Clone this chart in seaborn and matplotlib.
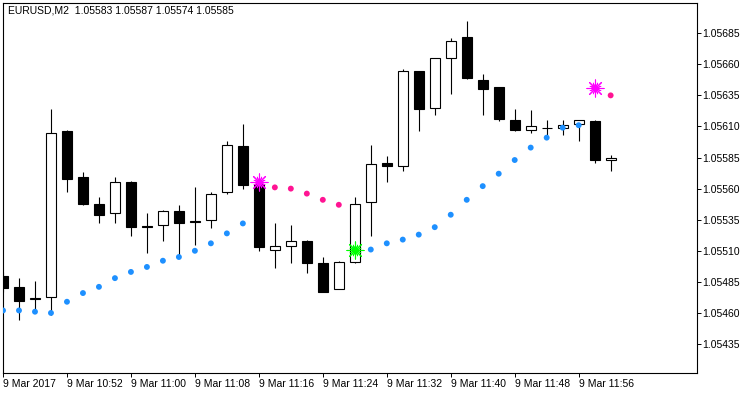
import matplotlib
matplotlib.use("Agg")
import pandas as pd
import matplotlib.pyplot as plt
import seaborn as sns

# EURUSD M2 candles, 9 Mar 2017 10:44 - 12:00
opens = [1.05490, 1.05481, 1.05471, 1.05473, 1.05606, 1.05569, 1.05548, 1.05540,
         1.05565, 1.05530, 1.05531, 1.05542, 1.05534, 1.05535, 1.05557, 1.05594,
         1.05564, 1.05511, 1.05514, 1.05518, 1.05500, 1.05479, 1.05501, 1.05549,
         1.05581, 1.05578, 1.05655, 1.05625, 1.05665, 1.05682, 1.05647, 1.05642,
         1.05615, 1.05607, 1.05609, 1.05609, 1.05612, 1.05614, 1.05583]
highs = [1.05493, 1.05488, 1.05486, 1.05624, 1.05607, 1.05573, 1.05553, 1.05569,
         1.05566, 1.05540, 1.05543, 1.05547, 1.05561, 1.05557, 1.05598, 1.05612,
         1.05566, 1.05532, 1.05531, 1.05519, 1.05505, 1.05502, 1.05553, 1.05595,
         1.05586, 1.05656, 1.05655, 1.05665, 1.05681, 1.05695, 1.05652, 1.05642,
         1.05624, 1.05623, 1.05615, 1.05615, 1.05615, 1.05615, 1.05587]
lows = [1.05477, 1.05454, 1.05461, 1.05458, 1.05557, 1.05547, 1.05532, 1.05532,
        1.05522, 1.05508, 1.05518, 1.05505, 1.05515, 1.05528, 1.05556, 1.05560,
        1.05510, 1.05496, 1.05500, 1.05492, 1.05477, 1.05479, 1.05500, 1.05522,
        1.05565, 1.05574, 1.05606, 1.05619, 1.05636, 1.05648, 1.05619, 1.05614,
        1.05606, 1.05605, 1.05602, 1.05603, 1.05598, 1.05581, 1.05574]
closes = [1.05480, 1.05470, 1.05472, 1.05605, 1.05568, 1.05548, 1.05539, 1.05565,
          1.05529, 1.05529, 1.05542, 1.05532, 1.05533, 1.05556, 1.05595, 1.05563,
          1.05513, 1.05514, 1.05518, 1.05500, 1.05477, 1.05501, 1.05548, 1.05580,
          1.05578, 1.05655, 1.05624, 1.05665, 1.05679, 1.05649, 1.05640, 1.05616,
          1.05607, 1.05610, 1.05609, 1.05611, 1.05615, 1.05583, 1.05585]

# parabolic SAR
sar = [1.05462, 1.05462, 1.05461, 1.05460, 1.05469, 1.05476, 1.05481, 1.05488,
       1.05493, 1.05497, 1.05502, 1.05505, 1.05510, 1.05516, 1.05524, 1.05532,
       1.05565, 1.05561, 1.05560, 1.05556, 1.05551, 1.05547, 1.05511, 1.05511,
       1.05516, 1.05519, 1.05523, 1.05529, 1.05539, 1.05551, 1.05562, 1.05572,
       1.05583, 1.05593, 1.05601, 1.05609, 1.05611, 1.05641, 1.05635]
trend = ["up"] * 16 + ["down"] * 6 + ["up"] * 15 + ["down"] * 2
sell_bars = [16, 37]
buy_bars = [22]

tick_bars = [0, 4, 8, 12, 16, 20, 24, 28, 32, 36]
tick_labels = ["9 Mar 2017", "9 Mar 10:52", "9 Mar 11:00", "9 Mar 11:08", "9 Mar 11:16",
               "9 Mar 11:24", "9 Mar 11:32", "9 Mar 11:40", "9 Mar 11:48", "9 Mar 11:56"]
price_ticks = [1.05435, 1.05460, 1.05485, 1.05510, 1.05535, 1.05560,
               1.05585, 1.05610, 1.05635, 1.05660, 1.05685]

df = pd.DataFrame({"bar": range(len(opens)), "open": opens, "high": highs,
                   "low": lows, "close": closes, "sar": sar, "trend": trend})
df["bottom"] = df[["open", "close"]].min(axis=1)
df["height"] = (df["close"] - df["open"]).abs()
df["fill"] = ["white" if c >= o else "black" for o, c in zip(df["open"], df["close"])]

sns.set_style("white")
plt.rcParams["font.family"] = ["Liberation Sans", "DejaVu Sans"]

fig = plt.figure(figsize=(7.5, 3.94), dpi=100)
ax = fig.add_axes([3 / 750, 1 - 373 / 394, 694 / 750, 370 / 394])

# candles
ax.vlines(df["bar"], df["low"], df["high"], colors="black", linewidth=0.8, zorder=2)
ax.bar(df["bar"], df["height"], bottom=df["bottom"], width=0.62, color=df["fill"],
       edgecolor="black", linewidth=0.8, zorder=3)

# SAR dots
sns.scatterplot(data=df, x="bar", y="sar", hue="trend",
                palette={"up": "#1E90FF", "down": "#FF1493"},
                s=18, linewidth=0, legend=False, ax=ax, zorder=4)

# reversal stars (spiky burst over the SAR dot)
sig = df.set_index("bar")
for bars_, col in [(sell_bars, "#FF00FF"), (buy_bars, "#00FF00")]:
    ax.scatter(bars_, sig.loc[bars_, "sar"], marker=(8, 2, 0), s=150,
               color=col, linewidths=0.8, zorder=5)
    ax.scatter(bars_, sig.loc[bars_, "sar"], marker=(8, 2, 22.5), s=70,
               color=col, linewidths=0.6, zorder=5)
    ax.scatter(bars_, sig.loc[bars_, "sar"], marker="o", s=14,
               color=col, linewidths=0, zorder=6)

ax.set_xlim(0.03, 43.4)
ax.set_ylim(1.054117, 1.057093)
ax.set_xticks(tick_bars)
ax.set_xticklabels(tick_labels, ha="left")
ax.set_yticks(price_ticks)
ax.set_yticklabels([f"{p:.5f}" for p in price_ticks])
ax.yaxis.tick_right()
ax.set_xlabel("")
ax.set_ylabel("")
ax.tick_params(axis="both", length=3, width=0.7, labelsize=7.5, pad=1,
               direction="out", colors="black", bottom=True, right=True, left=False)
for s in ax.spines.values():
    s.set_color("black")
    s.set_linewidth(0.8)

ax.text(0.007, 0.981, "EURUSD,M2  1.05583 1.05587 1.05574 1.05585",
        transform=ax.transAxes, fontsize=7.5, va="center", ha="left", color="black")

fig.savefig("out.png", dpi=100)
